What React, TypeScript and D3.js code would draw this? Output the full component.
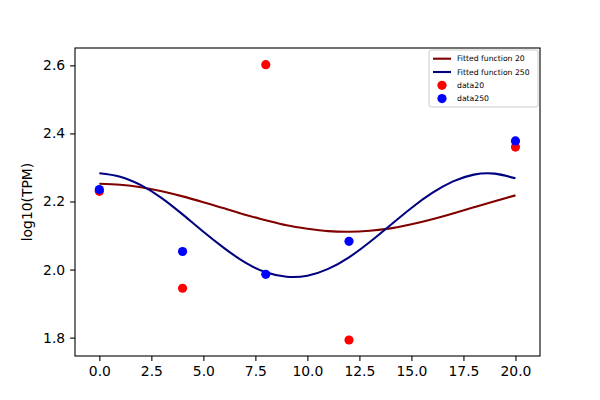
import { useEffect, useRef } from "react"
import * as d3 from "d3"

// sample times for the fitted curves (every 1 unit)
const curveT = d3.range(0, 21)
const fit20 = [
  2.252, 2.249, 2.242, 2.23, 2.215, 2.198, 2.18, 2.161, 2.145, 2.13, 2.12,
  2.113, 2.111, 2.114, 2.121, 2.133, 2.148, 2.165, 2.183, 2.201, 2.218,
]
const fit250 = [
  2.283, 2.273, 2.248, 2.21, 2.162, 2.111, 2.063, 2.021, 1.992, 1.979, 1.982,
  2.002, 2.036, 2.081, 2.131, 2.181, 2.225, 2.259, 2.279, 2.282, 2.268,
]

// measured points
const dataT = [0, 4, 8, 12, 20]
const data20 = [2.23, 1.945, 2.602, 1.793, 2.36]
const data250 = [2.235, 2.053, 1.986, 2.083, 2.378]

const xTicks = [0, 2.5, 5, 7.5, 10, 12.5, 15, 17.5, 20]
const yTicks = [1.8, 2.0, 2.2, 2.4, 2.6]

const legendItems = [
  { label: "Fitted function 20", color: "#800000", kind: "line" },
  { label: "Fitted function 250", color: "#000080", kind: "line" },
  { label: "data20", color: "red", kind: "dot" },
  { label: "data250", color: "blue", kind: "dot" },
]

export default function App() {
  const svgRef = useRef<SVGSVGElement | null>(null)

  useEffect(() => {
    if (!svgRef.current) return
    d3.select(svgRef.current).selectAll("*").remove()

    const margin = { top: 48, right: 60, bottom: 44, left: 75 }
    const width = 600 - margin.left - margin.right
    const height = 400 - margin.top - margin.bottom
    const font = "DejaVu Sans"

    const svg = d3
      .select(svgRef.current)
      .append("g")
      .attr("transform", `translate(${margin.left},${margin.top})`)

    const x = d3.scaleLinear().domain([-1.17, 21.18]).range([0, width])
    const y = d3.scaleLinear().domain([1.746, 2.651]).range([height, 0])

    // axes
    const xAxis = svg
      .append("g")
      .attr("transform", `translate(0,${height})`)
      .call(
        d3
          .axisBottom(x)
          .tickValues(xTicks)
          .tickFormat(d3.format(".1f"))
          .tickSize(4.9)
          .tickPadding(4.9),
      )
    const yAxis = svg.append("g").call(
      d3
        .axisLeft(y)
        .tickValues(yTicks)
        .tickFormat(d3.format(".1f"))
        .tickSize(4.9)
        .tickPadding(4.9),
    )
    ;[xAxis, yAxis].forEach((a) => {
      a.attr("font-family", font).attr("font-size", 13.9)
      a.select(".domain").remove()
      a.selectAll("line").attr("stroke", "black").attr("stroke-width", 1.1)
      a.selectAll("text").attr("fill", "black")
    })

    // frame
    svg
      .append("rect")
      .attr("width", width)
      .attr("height", height)
      .attr("fill", "none")
      .attr("stroke", "black")
      .attr("stroke-width", 1.1)

    svg
      .append("text")
      .attr("transform", `translate(${-43},${height / 2}) rotate(-90)`)
      .attr("text-anchor", "middle")
      .attr("font-family", font)
      .attr("font-size", 13.9)
      .text("log10(TPM)")

    // fitted curves
    const line = d3
      .line<number>()
      .x((_, i) => x(curveT[i]))
      .y((d) => y(d))
      .curve(d3.curveNatural)

    svg
      .append("path")
      .attr("d", line(fit20))
      .attr("fill", "none")
      .attr("stroke", "#800000")
      .attr("stroke-width", 2.1)
    svg
      .append("path")
      .attr("d", line(fit250))
      .attr("fill", "none")
      .attr("stroke", "#000080")
      .attr("stroke-width", 2.1)

    // points
    svg
      .selectAll(".d20")
      .data(data20)
      .enter()
      .append("circle")
      .attr("cx", (_, i) => x(dataT[i]))
      .attr("cy", (d) => y(d))
      .attr("r", 4.6)
      .attr("fill", "red")
    svg
      .selectAll(".d250")
      .data(data250)
      .enter()
      .append("circle")
      .attr("cx", (_, i) => x(dataT[i]))
      .attr("cy", (d) => y(d))
      .attr("r", 4.6)
      .attr("fill", "blue")

    // legend
    const lg = svg.append("g").attr("transform", `translate(${width - 111},${2})`)
    lg.append("rect")
      .attr("width", 109)
      .attr("height", 57)
      .attr("rx", 2)
      .attr("fill", "white")
      .attr("fill-opacity", 0.8)
      .attr("stroke", "#cccccc")
      .attr("stroke-width", 1)
    legendItems.forEach((item, i) => {
      const cy = 8.7 + i * 13.3
      if (item.kind === "line") {
        lg.append("line")
          .attr("x1", 4)
          .attr("x2", 22)
          .attr("y1", cy)
          .attr("y2", cy)
          .attr("stroke", item.color)
          .attr("stroke-width", 2.1)
      } else {
        lg.append("circle").attr("cx", 13).attr("cy", cy).attr("r", 4.6).attr("fill", item.color)
      }
      lg.append("text")
        .attr("x", 28)
        .attr("y", cy)
        .attr("dy", "0.35em")
        .attr("font-family", font)
        .attr("font-size", 7.7)
        .text(item.label)
    })
  }, [])

  return (
    <svg
      ref={svgRef}
      width={600}
      height={400}
      style={{ position: "absolute", left: 0, top: 0, background: "white" }}
    ></svg>
  )
}
